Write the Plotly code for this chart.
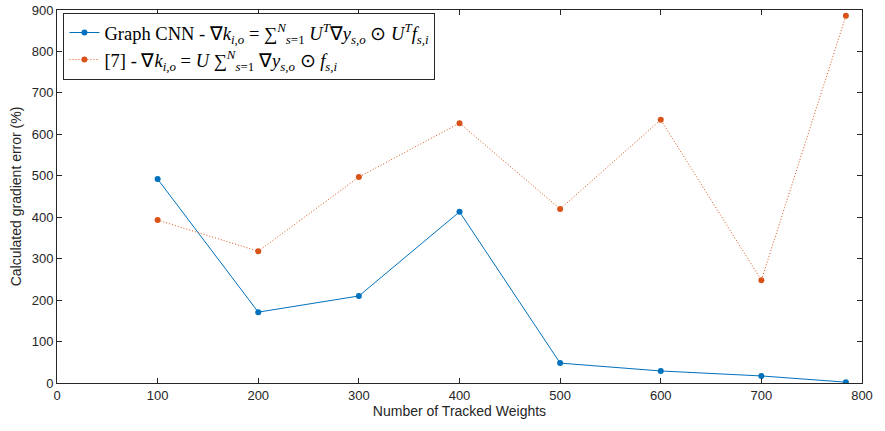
import plotly.graph_objects as go

weights = [100, 200, 300, 400, 500, 600, 700, 784]
graph_cnn = [492, 171, 210, 413, 48, 29, 17, 2]
ref7 = [393, 318, 497, 627, 420, 635, 248, 886]

x_ticks = [0, 100, 200, 300, 400, 500, 600, 700, 800]
y_ticks = [0, 100, 200, 300, 400, 500, 600, 700, 800, 900]

name1 = ("Graph CNN - ∇<i>k</i><sub><i>i,o</i></sub> = ∑<sup><i>N</i></sup><sub><i>s</i>=1</sub> "
         "<i>U</i><sup><i>T</i></sup>∇<i>y</i><sub><i>s,o</i></sub> ⊙ <i>U</i><sup><i>T</i></sup><i>f</i><sub><i>s,i</i></sub>")
name2 = ("[7] - ∇<i>k</i><sub><i>i,o</i></sub> = <i>U</i> ∑<sup><i>N</i></sup><sub><i>s</i>=1</sub> "
         "∇<i>y</i><sub><i>s,o</i></sub> ⊙ <i>f</i><sub><i>s,i</i></sub>")

fig = go.Figure()
fig.add_trace(go.Scatter(x=weights, y=graph_cnn, mode="lines+markers", name=name1,
                         line=dict(color="#0072BD", width=1),
                         marker=dict(color="#0072BD", size=6)))
fig.add_trace(go.Scatter(x=weights, y=ref7, mode="lines+markers", name=name2,
                         line=dict(color="#D95319", width=1, dash="1px,2px"),
                         marker=dict(color="#D95319", size=6)))

axis_common = dict(showgrid=False, zeroline=False, showline=True, linecolor="#262626",
                   linewidth=1, mirror="ticks", ticks="inside", ticklen=5, automargin=False,
                   tickcolor="#262626", tickfont=dict(family="Liberation Sans", size=13, color="#262626"))

fig.update_layout(
    width=885, height=431,
    margin=dict(l=57, r=23, t=10, b=48),
    paper_bgcolor="white", plot_bgcolor="white",
    showlegend=True,
    legend=dict(x=0.008, y=0.992, xanchor="left", yanchor="top",
                bgcolor="white", bordercolor="#262626", borderwidth=1,
                font=dict(family="Liberation Serif", size=18.5, color="black"),
                tracegroupgap=0, itemwidth=30),
    xaxis=dict(range=[0, 800], tickvals=x_ticks,
               title=dict(text="Number of Tracked Weights", font=dict(family="Liberation Sans", size=14, color="#262626"), standoff=4),
               **axis_common),
    yaxis=dict(range=[0, 900], tickvals=y_ticks,
               title=dict(text="Calculated gradient error (%)", font=dict(family="Liberation Sans", size=14, color="#262626"), standoff=6),
               **axis_common),
)

fig.write_html("out.html", config={"displayModeBar": False},
               post_script="document.body.style.margin='0px';document.body.style.overflow='hidden';")
